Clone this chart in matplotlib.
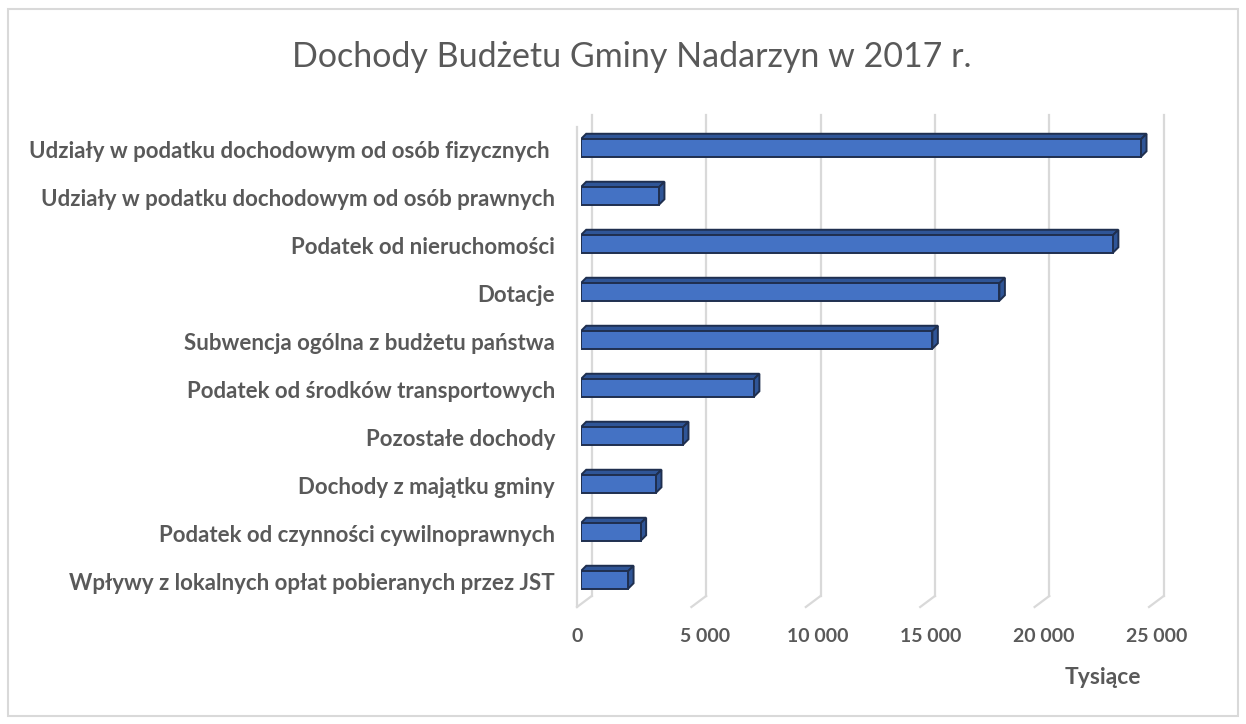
import matplotlib
matplotlib.use("Agg")
import matplotlib.pyplot as plt
from matplotlib.patches import Polygon, Rectangle

categories = [
    "Udziały w podatku dochodowym od osób fizycznych ",
    "Udziały w podatku dochodowym od osób prawnych",
    "Podatek od nieruchomości",
    "Dotacje",
    "Subwencja ogólna z budżetu państwa",
    "Podatek od środków transportowych",
    "Pozostałe dochody",
    "Dochody z majątku gminy",
    "Podatek od czynności cywilnoprawnych",
    "Wpływy z lokalnych opłat pobieranych przez JST",
]
values = [24490, 3420, 23260, 18300, 15370, 7570, 4470, 3290, 2620, 2070]
ticks = [0, 5000, 10000, 15000, 20000, 25000]
tick_labels = ["0", "5 000", "10 000", "15 000", "20 000", "25 000"]

W, H = 1246, 724
TXT = "#595959"
FRONT, DARK, EDGE = "#4472C4", "#2F5597", "#1F2F4F"
GRID = "#D9D9D9"
FONT = "Lato"

fig = plt.figure(figsize=(W / 100, H / 100), dpi=100)

# axes placed so that value 0 sits on the bar front plane
x0, x1 = 580.7, 580.7 + 5 * 114.4          # pixels
y0, y1 = 100, 620                          # pixels from top
ax = fig.add_axes([x0 / W, (H - y1) / H, (x1 - x0) / W, (y1 - y0) / H])
ax.set_xlim(0, 25000)
ax.set_ylim((y1 - 148) / 48, (y0 - 148) / 48)
ax.set_axis_off()

ux = 25000 / (x1 - x0)   # data units per pixel (x)
uy = 1 / 48              # data units per pixel (y, downward)


def yd(px):
    return (px - 148) / 48


# back-wall gridlines, left wall edge and floor diagonals
back_dx, back_dy = 11 * ux, -9 * uy
front_dx, front_dy = -3.7 * ux, 3 * uy
for t in ticks:
    ax.plot([t + back_dx] * 2, [yd(115), yd(596)], color=GRID, lw=1.6,
            clip_on=False, zorder=1)
    ax.plot([t + front_dx, t + back_dx], [yd(607), yd(596)], color=GRID,
            lw=1.6, clip_on=False, zorder=1)
ax.plot([front_dx] * 2, [yd(127), yd(607)], color=GRID, lw=1.6,
        clip_on=False, zorder=1)

# bars with pseudo-3D faces
h = 17.5 / 48
dx, dy = 5.5 * ux, 5.5 * uy
idx = list(range(len(values)))
ax.barh(idx, values, height=h, color=FRONT, edgecolor=EDGE, lw=1.4, zorder=3)
for i, v in zip(idx, values):
    top, bot = i - h / 2, i + h / 2
    ax.add_patch(Polygon([(0, top), (v, top), (v + dx, top - dy), (dx, top - dy)],
                         closed=True, fc=DARK, ec=EDGE, lw=1.4, zorder=2))
    ax.add_patch(Polygon([(v, top), (v + dx, top - dy), (v + dx, bot - dy), (v, bot)],
                         closed=True, fc=DARK, ec=EDGE, lw=1.4, zorder=2))

# category labels
for i, lab in zip(idx, categories):
    ax.text((555 - x0) * ux, i + 4 * uy, lab, ha="right", va="center",
            fontsize=16, fontweight="bold", color=TXT, family=FONT, clip_on=False)

# tick labels
for t, lab in zip(ticks, tick_labels):
    off = back_dx - t / 25000 * 7 * ux if t else -4 * ux
    ax.text(t + off, yd(637), lab, ha="center", va="center", fontsize=14,
            fontweight="bold", color=TXT, family=FONT, clip_on=False)

fig.text(1103 / W, 1 - 678 / H, "Tysiące", ha="center", va="center",
         fontsize=16.5, fontweight="bold", color=TXT, family=FONT)
fig.text(632 / W, 1 - 57 / H, "Dochody Budżetu Gminy Nadarzyn w 2017 r.",
         ha="center", va="center", fontsize=24.5, color=TXT, family=FONT)

fig.add_artist(Rectangle((8 / W, 1 - 716 / H), 1230 / W, 707 / H,
                         transform=fig.transFigure, fill=False, ec=GRID, lw=1.5))

fig.savefig("out.png", dpi=100)
